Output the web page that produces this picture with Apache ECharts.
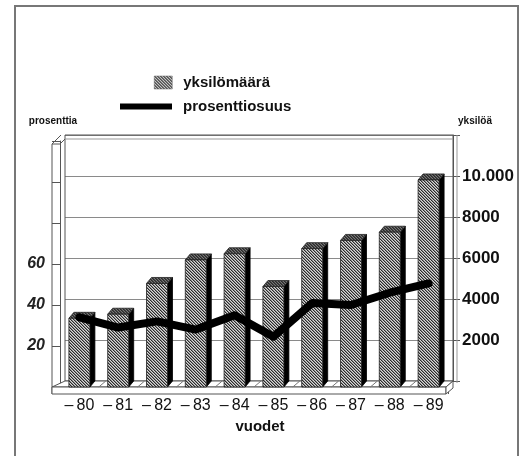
<!DOCTYPE html>
<html>
<head>
<meta charset="utf-8">
<style>
  html, body { margin: 0; padding: 0; background: #fff; }
  #chart { width: 525px; height: 456px; }
</style>
<script src="https://cdn.jsdelivr.net/npm/echarts@6/dist/echarts.min.js"></script>
</head>
<body>
<div id="chart"></div>
<script>
// Years on the category axis
const years = ['\u2013\u200980', '\u2013\u200981', '\u2013\u200982', '\u2013\u200983', '\u2013\u200984',
               '\u2013\u200985', '\u2013\u200986', '\u2013\u200987', '\u2013\u200988', '\u2013\u200989'];
// Number of individuals (right axis, bars)
const individuals = [3350, 3550, 5050, 6200, 6500, 4900, 6750, 7150, 7550, 10100];
// Percentage share (left axis, line)
const percentShare = [34, 29, 32, 28, 35, 24.5, 41, 40, 46, 50.5];
// Axis tick labels
const rightTickValues = [2000, 4000, 6000, 8000, 10000];
const rightTickLabels = ['2000', '4000', '6000', '8000', '10.000'];
const leftTickValues = [20, 40, 60];
const leftTickLabels = ['20', '40', '60'];

const FONT = '"Liberation Sans", Arial, Helvetica, sans-serif';

// Back wall and the plane the bars stand on (shifted toward the viewer)
const BACK = { left: 65, top: 135, width: 388, height: 246 };
const MID = { left: 60, top: 141, width: 388, height: 246 };
const FRONT_X = 52;
const FLOOR_THICK = 7;

// Fine diagonal hatching used on the bar faces
function makePattern(dark) {
  const c = document.createElement('canvas');
  c.width = 3; c.height = 3;
  const g = c.getContext('2d');
  g.fillStyle = dark ? '#777' : '#d8d8d8';
  g.fillRect(0, 0, 3, 3);
  for (let i = 0; i < 3; i++) {
    g.fillStyle = '#2a2a2a';
    g.fillRect(i, i, 1, 1);
    g.fillStyle = dark ? '#444' : '#8a8a8a';
    g.fillRect((i + 1) % 3, i, 1, 1);
  }
  return { image: c, repeat: 'repeat' };
}
const hatch = makePattern(false);
const hatchDark = makePattern(true);

function renderBox(params, api) {
  const i = api.value(0);
  const v = api.value(1);
  const top = api.coord([i, v]);
  const base = api.coord([i, 0]);
  const w = 21, dx = 5, dy = -6;
  const xl = top[0] - w / 2, xr = top[0] + w / 2;
  return {
    type: 'group',
    children: [
      { type: 'polygon',
        shape: { points: [[xr, top[1]], [xr + dx, top[1] + dy], [xr + dx, base[1] + dy], [xr, base[1]]] },
        style: { fill: '#000', stroke: '#000', lineWidth: 0.8 } },
      { type: 'polygon',
        shape: { points: [[xl, top[1]], [xr, top[1]], [xr + dx, top[1] + dy], [xl + dx, top[1] + dy]] },
        style: { fill: hatchDark, stroke: '#222', lineWidth: 0.8 } },
      { type: 'rect',
        shape: { x: xl, y: top[1], width: w, height: base[1] - top[1] },
        style: { fill: hatch, stroke: '#222', lineWidth: 0.8 } }
    ]
  };
}

const chart = echarts.init(document.getElementById('chart'), null, { renderer: 'canvas' });

// Frame pieces: walls, floor slab and outer border
const backBottom = BACK.top + BACK.height;
const midBottom = MID.top + MID.height;
const frontRight = BACK.left + BACK.width - 7;
const step = MID.width / years.length;
const lineStyle = { stroke: '#555', lineWidth: 1, fill: null };
const graphics = [
  { type: 'rect', shape: { x: 15, y: 6, width: 503, height: 470 },
    style: { fill: null, stroke: '#777', lineWidth: 2 }, z: 0 },
  // inner edge of the back wall slab
  { type: 'line', shape: { x1: BACK.left, y1: BACK.top + 4, x2: BACK.left + BACK.width, y2: BACK.top + 4 },
    style: { stroke: '#999', lineWidth: 1 }, z: 1 },
  { type: 'line', shape: { x1: BACK.left + BACK.width + 4, y1: BACK.top, x2: BACK.left + BACK.width + 4, y2: backBottom + 2 },
    style: { stroke: '#999', lineWidth: 1 }, z: 1 },
  // left wall
  { type: 'polyline', shape: { points: [[FRONT_X, midBottom + FLOOR_THICK], [FRONT_X, MID.top + 3], [MID.left, MID.top + 3]] },
    style: lineStyle, z: 1 },
  { type: 'line', shape: { x1: FRONT_X, y1: MID.top + 3, x2: FRONT_X + 9, y2: BACK.top },
    style: lineStyle, z: 1 },
  { type: 'line', shape: { x1: MID.left, y1: MID.top + 3, x2: BACK.left, y2: BACK.top + 4 },
    style: lineStyle, z: 1 },
  // floor slab: top face, front face and right end
  { type: 'polygon', shape: { points: [[BACK.left, backBottom], [BACK.left + BACK.width, backBottom], [frontRight, midBottom], [FRONT_X, midBottom]] },
    style: { fill: '#fff', stroke: '#555', lineWidth: 1 }, z: 1 },
  { type: 'rect', shape: { x: FRONT_X, y: midBottom, width: frontRight - FRONT_X, height: FLOOR_THICK },
    style: { fill: '#fff', stroke: '#555', lineWidth: 1 }, z: 1 },
  { type: 'polygon', shape: { points: [[frontRight, midBottom], [BACK.left + BACK.width, backBottom], [BACK.left + BACK.width, backBottom + FLOOR_THICK], [frontRight, midBottom + FLOOR_THICK]] },
    style: { fill: '#fff', stroke: '#555', lineWidth: 1 }, z: 1 }
];
for (let k = 1; k < years.length; k++) {
  const xf = MID.left + step * k;
  graphics.push({ type: 'line', shape: { x1: xf, y1: midBottom, x2: xf + 7, y2: backBottom },
    style: { stroke: '#777', lineWidth: 1 }, z: 1 });
}

chart.setOption({
  animation: false,
  backgroundColor: '#fff',
  textStyle: { fontFamily: FONT },
  graphic: { elements: graphics },
  legend: [
    { data: [{ name: 'yksilömäärä', icon: 'rect', itemStyle: { color: hatch, borderColor: '#666', borderWidth: 0.5 } }],
      left: 149, top: 70, itemWidth: 18, itemHeight: 13, selectedMode: false,
      textStyle: { fontFamily: FONT, fontSize: 15, fontWeight: 'bold', color: '#111', padding: [0, 0, 0, 6] } },
    { data: [{ name: 'prosenttiosuus', icon: 'rect', itemStyle: { color: '#000' } }],
      left: 115, top: 94, itemWidth: 52, itemHeight: 6, selectedMode: false,
      textStyle: { fontFamily: FONT, fontSize: 15, fontWeight: 'bold', color: '#111', padding: [0, 0, 0, 6] } }
  ],
  grid: [
    { left: BACK.left, top: BACK.top, width: BACK.width, height: BACK.height,
      show: true, borderColor: '#555', borderWidth: 1, backgroundColor: 'transparent', z: 1 },
    { left: MID.left, top: MID.top, width: MID.width, height: MID.height, show: false }
  ],
  xAxis: [
    { type: 'category', gridIndex: 0, data: years, show: false },
    { type: 'category', gridIndex: 1, data: years, boundaryGap: true,
      axisLine: { show: false },
      axisTick: { show: true, length: FLOOR_THICK, interval: 0, lineStyle: { color: '#555' } },
      axisLabel: { interval: 0, margin: 11, fontSize: 16, color: '#111', fontFamily: FONT },
      name: 'vuodet', nameLocation: 'middle', nameGap: 27,
      nameTextStyle: { fontSize: 15, fontWeight: 'bold', color: '#111', fontFamily: FONT, padding: [0, 0, 0, 12] } }
  ],
  yAxis: [
    { type: 'value', gridIndex: 0, position: 'right', min: 0, max: 12000, interval: 2000,
      axisLine: { show: true, lineStyle: { color: '#555' } },
      axisTick: { show: true, length: 7, lineStyle: { color: '#555' } },
      splitLine: { show: true, lineStyle: { color: '#8a8a8a', width: 1 } },
      axisLabel: { margin: 9, fontSize: 17, fontWeight: 'bold', color: '#111', fontFamily: FONT,
        formatter: v => { const i = rightTickValues.indexOf(v); return i < 0 ? '' : rightTickLabels[i]; } },
      name: 'yksilöä', nameLocation: 'end', nameGap: 9,
      nameTextStyle: { fontSize: 10, fontWeight: 'bold', color: '#111', fontFamily: FONT, padding: [0, 0, 0, 44] } },
    { type: 'value', gridIndex: 1, position: 'left', min: 0, max: 120, interval: 20,
      axisLine: { show: true, lineStyle: { color: '#555' } },
      axisTick: { show: true, length: 8, lineStyle: { color: '#555' } },
      splitLine: { show: false },
      axisLabel: { margin: 15, fontSize: 16, fontWeight: 'bold', fontStyle: 'italic', color: '#222', fontFamily: FONT,
        formatter: v => { const i = leftTickValues.indexOf(v); return i < 0 ? '' : leftTickLabels[i]; } },
      name: 'prosenttia', nameLocation: 'end', nameGap: 15,
      nameTextStyle: { fontSize: 10, fontWeight: 'bold', color: '#111', fontFamily: FONT, padding: [0, 14, 0, 0] } },
    { type: 'value', gridIndex: 1, min: 0, max: 12000, interval: 2000, show: false }
  ],
  series: [
    { name: 'yksilömäärä', type: 'custom', xAxisIndex: 1, yAxisIndex: 2,
      itemStyle: { color: hatch },
      renderItem: renderBox, encode: { x: 0, y: 1 },
      data: individuals.map((v, i) => [i, v]), z: 5 },
    { name: 'prosenttiosuus', type: 'line', xAxisIndex: 1, yAxisIndex: 1,
      data: percentShare, symbol: 'none',
      lineStyle: { color: '#000', width: 8, join: 'round', cap: 'round' },
      itemStyle: { color: '#000' }, z: 10 }
  ]
});
</script>
</body>
</html>
